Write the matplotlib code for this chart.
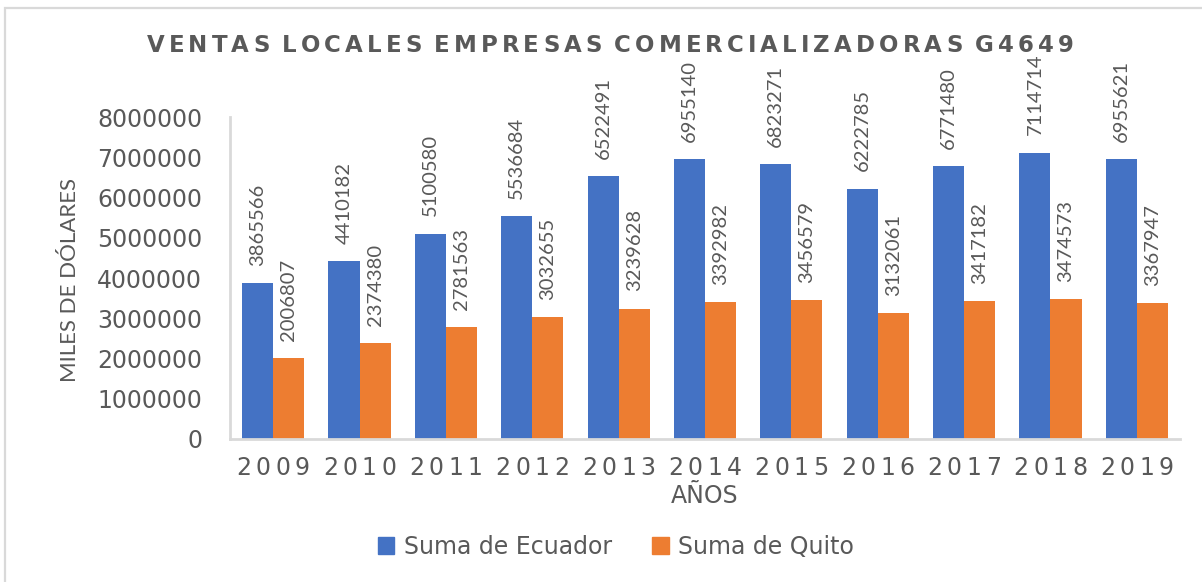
import matplotlib.pyplot as plt
from matplotlib.patches import Rectangle, Patch

# data
years = ['2009', '2010', '2011', '2012', '2013', '2014', '2015', '2016', '2017', '2018', '2019']
ecuador = [3865566, 4410182, 5100580, 5536684, 6522491, 6955140, 6823271, 6222785, 6771480, 7114714, 6955621]
quito = [2006807, 2374380, 2781563, 3032655, 3239628, 3392982, 3456579, 3132061, 3417182, 3474573, 3367947]
yticks = [0, 1000000, 2000000, 3000000, 4000000, 5000000, 6000000, 7000000, 8000000]

BLUE = '#4472C4'
ORANGE = '#ED7D31'
GRAY = '#595959'
LINE = '#D9D9D9'
NARROW = ['Lato', 'DejaVu Sans']

W, H = 1202, 582
fig = plt.figure(figsize=(W / 100, H / 100), dpi=100)
plt.rcParams['font.family'] = ['DejaVu Sans']

# outer chart frame
fig.patches.append(Rectangle((5 / W, -0.1), 1.2, 1 - 8 / H + 0.1, transform=fig.transFigure,
                             fill=False, edgecolor=LINE, linewidth=1.6))

ax = fig.add_axes([230 / W, 1 - 439 / H, 950 / W, 322 / H])

x = list(range(len(years)))
bw = 0.36
ax.bar([i - bw / 2 for i in x], ecuador, bw, color=BLUE, label='Suma de Ecuador')
ax.bar([i + bw / 2 for i in x], quito, bw, color=ORANGE, label='Suma de Quito')

# vertical value labels above each bar
for i in x:
    for xv, v in ((i - bw / 2, ecuador[i]), (i + bw / 2, quito[i])):
        ax.annotate(str(v), (xv, v), xytext=(0, 12.5), textcoords='offset points',
                    rotation=90, ha='center', va='bottom', color=GRAY,
                    fontsize=14.5, family=NARROW)

ax.set_xlim(-0.5, len(years) - 0.5)
ax.set_ylim(0, 8000000)
ax.set_yticks(yticks)
ax.set_yticklabels([str(t) for t in yticks], fontsize=17, color=GRAY)
ax.tick_params(axis='y', length=0, pad=20)
ax.set_xticks([])
for s in ('top', 'right'):
    ax.spines[s].set_visible(False)
for s in ('left', 'bottom'):
    ax.spines[s].set_color(LINE)
    ax.spines[s].set_linewidth(2)

renderer = fig.canvas.get_renderer()


def spaced(xc, yb, s, track, word_gap, **kw):
    # lay out a string char by char with extra tracking; xc/yb in px from top-left
    parts = []
    for ch in s:
        if ch == ' ':
            parts.append((ch, word_gap))
            continue
        t = fig.text(0, 0, ch, **kw)
        parts.append((ch, t.get_window_extent(renderer).width))
        t.remove()
    total = sum(w for _, w in parts) + track * (len(parts) - 1)
    cx = xc - total / 2
    for ch, w in parts:
        if ch != ' ':
            fig.text(cx / W, 1 - yb / H, ch, ha='left', va='baseline', **kw)
        cx += w + track


spaced(610, 52, 'VENTAS LOCALES EMPRESAS COMERCIALIZADORAS G4649', 4.1, 4,
       fontsize=16.5, fontweight='bold', color=GRAY)

for i, yr in enumerate(years):
    px = ax.transData.transform((i, 0))[0]
    spaced(px, 475, yr, 4.5, 0, fontsize=17, color=GRAY)

fig.text(705 / W, 1 - 503 / H, 'AÑOS', ha='center', va='baseline', fontsize=17, color=GRAY)
fig.text(70 / W, 1 - 280 / H, 'MILES DE DÓLARES', ha='center', va='center', rotation=90,
         fontsize=16, color=GRAY, family=NARROW)

handles = [Patch(color=BLUE, label='Suma de Ecuador'), Patch(color=ORANGE, label='Suma de Quito')]
leg = fig.legend(handles=handles, loc='center', bbox_to_anchor=(616 / W, 1 - 547 / H), ncol=2,
                 frameon=False, fontsize=17, handlelength=0.7, handleheight=0.7,
                 handletextpad=0.4, columnspacing=1.7)
for t in leg.get_texts():
    t.set_color(GRAY)

fig.savefig('out.png', dpi=100)
